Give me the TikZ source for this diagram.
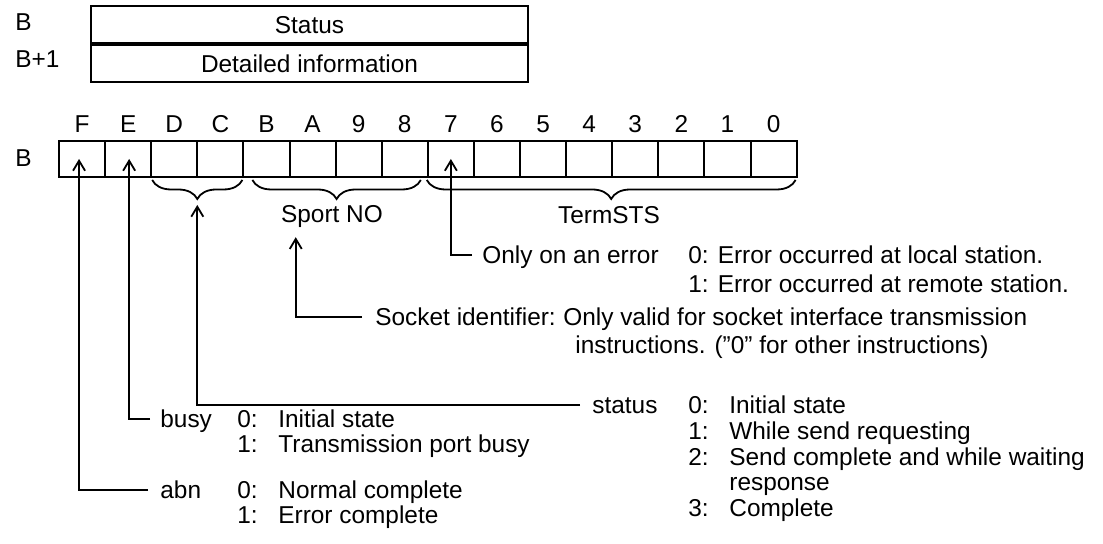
\documentclass[tikz,border=0pt]{standalone}
\usepackage{fontspec}
\setmainfont{Liberation Sans}
\usetikzlibrary{arrows.meta}
\usetikzlibrary{decorations.pathreplacing}
\usetikzlibrary{calc}
\newcommand{\entry}[2]{\makebox[20.5pt][l]{#1}#2}
\begin{document}
\begin{tikzpicture}[x=0.5pt, y=-0.5pt, font=\fontsize{12.2pt}{14pt}\selectfont,
cell/.style={draw, line width=1pt, minimum width=23.05pt, minimum height=18pt, inner sep=0, anchor=north west},
word/.style={draw, line width=1pt, minimum width=218.5pt, minimum height=18.5pt, inner sep=0, text height=8.8pt, text depth=0pt},
txt/.style={inner sep=0, anchor=west, text height=8.8pt, text depth=0pt},
lbl/.style={inner sep=0, text height=8.8pt, text depth=0pt},
ptr/.style={-{Straight Barb[length=5pt, width=6pt]}, line width=0.9pt},
brc/.style={decorate, decoration={brace, mirror, amplitude=9.5pt}, line width=0.9pt}]
\useasboundingbox (0,0) rectangle (1103,544);
%%%%%%%%%%%%%%%%%%%%%%% WORD TABLE %%%%%%%%%%%%%%%%%%%%%%%
\node[txt] (wB) at (15,22) {B};
\node[txt] (wB1) at (15,59) {B+1};
\node[word, anchor=north west] (stat) at (90,5) {Status};
\node[word, anchor=north] (detail) at (stat.south) {Detailed information};
%%%%%%%%%%%%%%%%%%%%%%% BIT REGISTER %%%%%%%%%%%%%%%%%%%%%%%
\node[txt] (regB) at (15,158) {B};
\foreach \b/\h [count=\i from 0] in {15/F,14/E,13/D,12/C,11/B,10/A,9/9,8/8,7/7,6/6,5/5,4/4,3/3,2/2,1/1,0/0}{
  \node[cell] (bit\b) at (58+46.1*\i,140) {};
  \node[lbl] (hex\b) at ($(bit\b.north)+(0,-16)$) {\h};
}
%%%%%%%%%% braces
\draw[brc] ([xshift=1pt, yshift=-1pt]bit13.south west) -- ([xshift=-1pt, yshift=-1pt]bit12.south east) coordinate[midway] (stsMid);
\draw[brc] ([xshift=5pt, yshift=-1pt]bit11.south west) -- ([xshift=-4pt, yshift=-1pt]bit8.south east) coordinate[midway] (portMid);
\draw[brc] ([xshift=0pt, yshift=-1pt]bit7.south west) -- ([xshift=-1pt, yshift=-1pt]bit0.south east) coordinate[midway] (termMid);
\node[lbl] (sport) at (332,214) {Sport NO};
\node[lbl] (term) at (609,215) {TermSTS};
%%%%%%%%%%%%%%%%%%%%%%% ANNOTATIONS %%%%%%%%%%%%%%%%%%%%%%%
\node[txt] (onerr) at (482,255) {Only on an error};
\node[txt] (err0) at (688,255) {0: Error occurred at local station.};
\node[txt] (err1) at (688,284) {1: Error occurred at remote station.};
\node[txt] (sock) at (375,317) {Socket identifier:};
\node[txt] (sock0) at (sock.east) {\ Only valid for socket interface transmission};
\node[txt] (sock1) at (575,345) {instructions. ("0" for other instructions)};
\node[txt] (sts) at (592,405) {status};
\node[txt] (sts0) at (688,405) {\entry{0:}{Initial state}};
\node[txt] (sts1) at (688,431) {\entry{1:}{While send requesting}};
\node[txt] (sts2) at (688,457) {\entry{2:}{Send complete and while waiting}};
\node[txt] (sts3) at (688,482) {\entry{}{response}};
\node[txt] (sts4) at (688,508) {\entry{3:}{Complete}};
\node[txt] (busy) at (160,419) {busy};
\node[txt] (busy0) at (237,419) {\entry{0:}{Initial state}};
\node[txt] (busy1) at (237,444) {\entry{1:}{Transmission port busy}};
\node[txt] (abn) at (160,490) {abn};
\node[txt] (abn0) at (237,490) {\entry{0:}{Normal complete}};
\node[txt] (abn1) at (237,515) {\entry{1:}{Error complete}};
%%%%%%%%%%%%%%%%%%%%%%% LEADERS %%%%%%%%%%%%%%%%%%%%%%%
\coordinate (stsTip) at ($(stsMid)+(0,25)$);
\coordinate (portTip) at ($(sport.south west)+(15,14)$);
\draw[ptr] ([xshift=-5pt]onerr.west) -| (bit7.center);
\draw[ptr] ([xshift=-6.5pt]sock.west) -| (portTip);
\draw[ptr] ([xshift=-6pt]sts.west) -| (stsTip);
\draw[ptr] ([xshift=-5pt]busy.west) -| ([xshift=0.5pt]bit14.center);
\draw[ptr] ([xshift=-6pt]abn.west) -| ([xshift=-1.5pt]bit15.center);
\end{tikzpicture}
\end{document}
